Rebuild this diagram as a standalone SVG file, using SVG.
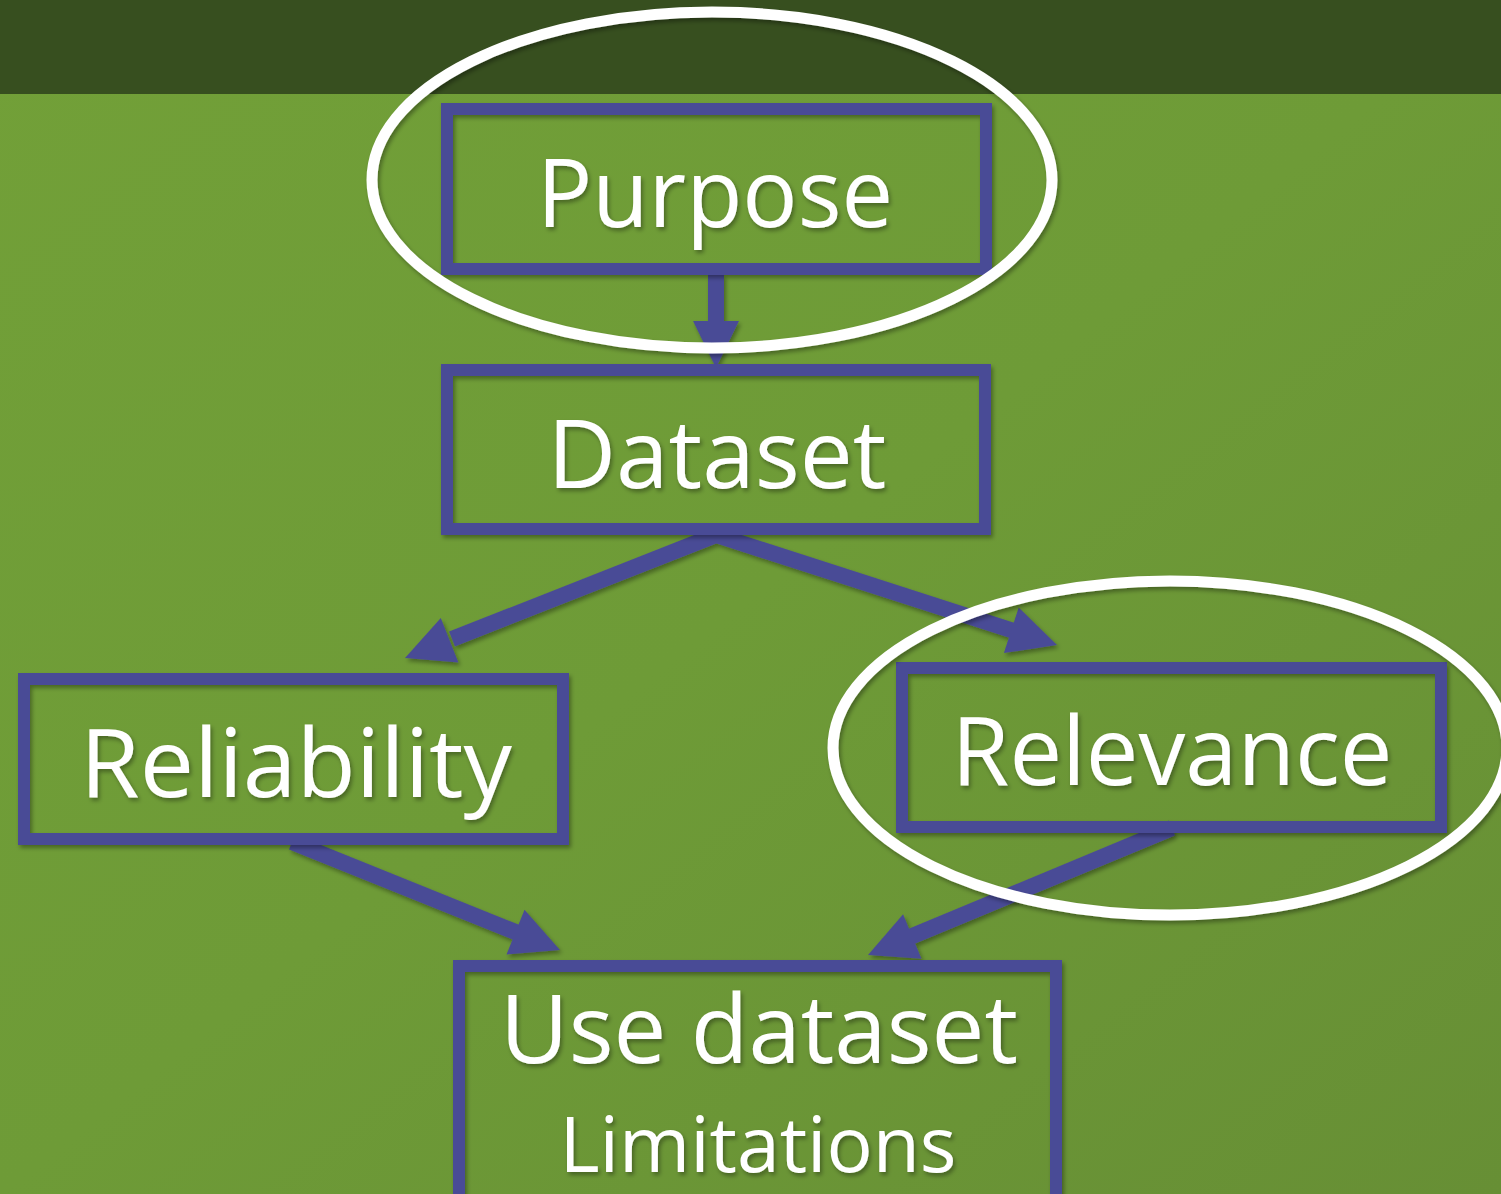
<svg xmlns="http://www.w3.org/2000/svg" width="1501" height="1194" viewBox="0 0 1501 1194">
<defs>
<linearGradient id="bg" x1="0" y1="0" x2="1" y2="1">
<stop offset="0" stop-color="#72a038"/>
<stop offset="0.5" stop-color="#6e9b37"/>
<stop offset="1" stop-color="#678f35"/>
</linearGradient>
<filter id="sh" x="-10%" y="-10%" width="120%" height="120%">
<feDropShadow dx="2" dy="3" stdDeviation="2" flood-color="#000" flood-opacity="0.35"/>
</filter>
</defs>
<style>
.box{fill:none;stroke:#4a4c96;stroke-width:12;filter:url(#sh)}
.ell{fill:none;stroke:#ffffff;stroke-width:11;filter:url(#sh)}
.conn{stroke:#4a4c96;stroke-width:16;fill:none}
.head{fill:#4a4c96}
.lbl{font-family:"Open Sans","Noto Sans","Liberation Sans",sans-serif;fill:#ffffff;text-anchor:middle;filter:url(#sh)}
</style>
<rect x="0" y="0" width="1501" height="1194" fill="url(#bg)"/>
<rect x="0" y="0" width="1501" height="94" fill="#374f1f"/>
<g id="connectors" filter="url(#sh)">
<line class="conn" x1="716" y1="275" x2="716" y2="322"/>
<polygon class="head" points="693,321 739,321 716,368"/>
<line class="conn" x1="716" y1="535" x2="452" y2="639"/>
<polygon class="head" points="405,658 440.8,618 458.4,662.6"/>
<line class="conn" x1="716" y1="535" x2="1014" y2="631"/>
<polygon class="head" points="1057,645 1018.7,607.5 1003.9,653.1"/>
<line class="conn" x1="292" y1="842" x2="518" y2="933"/>
<polygon class="head" points="560,950 524.5,909.8 506.5,954.4"/>
<line class="conn" x1="1172" y1="828" x2="910" y2="937"/>
<polygon class="head" points="868,955 903.1,914.3 921.5,958.7"/>
</g>
<g id="purpose">
<rect class="box" x="447" y="109" width="539" height="160"/>
<text class="lbl" x="715" y="227" font-size="96" textLength="356" lengthAdjust="spacingAndGlyphs">Purpose</text>
</g>
<g id="dataset">
<rect class="box" x="447" y="370" width="538" height="159"/>
<text class="lbl" x="717" y="488" font-size="96" textLength="339" lengthAdjust="spacingAndGlyphs">Dataset</text>
</g>
<g id="reliability">
<rect class="box" x="24" y="679" width="539" height="160"/>
<text class="lbl" x="296" y="797" font-size="96" textLength="432" lengthAdjust="spacingAndGlyphs">Reliability</text>
</g>
<g id="relevance">
<rect class="box" x="902" y="668" width="539" height="159"/>
<text class="lbl" x="1172" y="785" font-size="96" textLength="441" lengthAdjust="spacingAndGlyphs">Relevance</text>
</g>
<g id="use-dataset">
<rect class="box" x="459" y="966" width="597" height="240"/>
<text class="lbl" x="759" y="1063" font-size="96" textLength="518" lengthAdjust="spacingAndGlyphs">Use dataset</text>
<text class="lbl" x="758" y="1172" font-size="76" textLength="397" lengthAdjust="spacingAndGlyphs">Limitations</text>
</g>
<g id="highlight-purpose">
<ellipse class="ell" cx="712" cy="180" rx="340" ry="168"/>
</g>
<g id="highlight-relevance">
<ellipse class="ell" cx="1170" cy="748" rx="337" ry="167"/>
</g>
</svg>
